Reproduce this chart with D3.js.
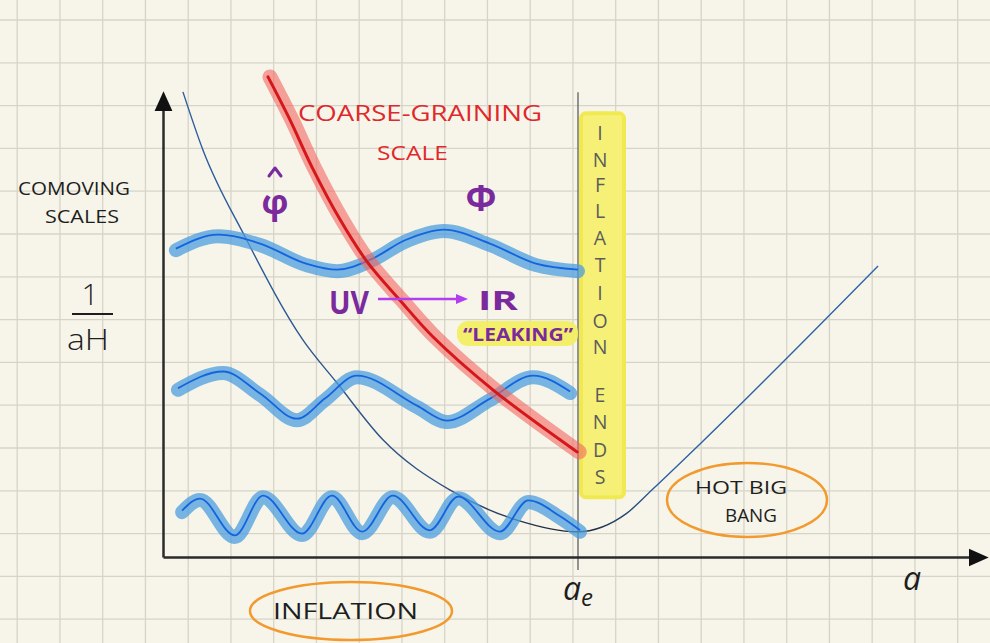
<!DOCTYPE html>
<html>
<head>
<meta charset="utf-8">
<script src="https://cdn.jsdelivr.net/npm/d3@7"></script>
<style>
body { margin: 0; background: #f7f5ea; }
svg { display: block; }
text { font-family: "Open Sans", sans-serif; }
</style>
</head>
<body>
<div id="chart-area"></div>
<script>
/*
*    comoving scales during inflation
*/

// x: scale factor a (a_e = 10), y: comoving scale 1/aH (arbitrary units)
const aEnd = 10;
const hubbleRadius = [[0.48, 9.96], [0.96, 8.72], [1.98, 6.85], [3.37, 4.65], [4.19, 3.73],
    [5.30, 2.51], [6.92, 1.43], [8.53, 0.79], [9.98, 0.54], [11.18, 0.94], [11.81, 1.46],
    [12.94, 2.42], [17.23, 6.23]];
const coarseGraining = [[2.53, 10.28], [3.06, 9.36], [3.59, 8.35], [4.27, 7.22], [4.92, 6.32],
    [5.71, 5.50], [6.51, 4.71], [7.95, 3.58], [9.98, 2.25]];
const longMode = [[0.31, 6.57], [1.33, 6.87], [2.34, 6.68], [3.45, 6.25], [4.19, 6.12],
    [5.01, 6.34], [5.83, 6.75], [6.77, 6.98], [7.88, 6.68], [8.99, 6.25], [10.0, 6.12]];
const midMode = [[0.36, 3.58], [1.45, 3.94], [2.34, 3.47], [3.23, 2.93], [3.90, 3.36],
    [4.67, 3.85], [6.12, 3.21], [6.84, 2.89], [7.88, 3.36], [8.92, 3.85], [9.81, 3.51]];
const shortMode = [[0.46, 0.96], [0.89, 1.22], [1.73, 0.43], [2.41, 1.28], [3.35, 0.47],
    [4.07, 1.28], [4.80, 0.51], [5.54, 1.28], [6.43, 0.54], [7.11, 1.26], [8.12, 0.51],
    [8.80, 1.18], [9.57, 0.84], [10.05, 0.54]];
const endsLetters = ["I", "N", "F", "L", "A", "T", "I", "O", "N", "E", "N", "D", "S"];
const endsLevels = [9.08, 8.52, 7.97, 7.41, 6.85, 6.27, 5.67, 5.07, 4.50, 3.49, 2.91, 2.31, 1.73];

const W = 990, H = 643;

const svg = d3.select("#chart-area").append("svg")
    .attr("width", W)
    .attr("height", H);

const x = d3.scaleLinear().domain([0, 10]).range([163, 578]);
const y = d3.scaleLinear().domain([0, 10]).range([557, 90]);

// paper grid
const gridX = d3.range(17.2, W, 42.75);
const gridY = d3.range(20, H, 42.8);
const grid = svg.append("g").attr("stroke", "#d6d4c8").attr("stroke-width", 1.3);
grid.selectAll(".gx").data(gridX).enter().append("line")
    .attr("x1", d => d).attr("x2", d => d).attr("y1", 0).attr("y2", H);
grid.selectAll(".gy").data(gridY).enter().append("line")
    .attr("y1", d => d).attr("y2", d => d).attr("x1", 0).attr("x2", W);

const defs = svg.append("defs");
defs.append("marker")
    .attr("id", "axis-head")
    .attr("markerUnits", "userSpaceOnUse")
    .attr("viewBox", "0 0 20 20")
    .attr("markerWidth", 20).attr("markerHeight", 20)
    .attr("refX", 2).attr("refY", 10)
    .attr("orient", "auto")
    .append("path").attr("d", "M0,1 L20,10 L0,19 Z").attr("fill", "#111");
defs.append("marker")
    .attr("id", "uv-head")
    .attr("markerUnits", "userSpaceOnUse")
    .attr("viewBox", "0 0 12 12")
    .attr("markerWidth", 12).attr("markerHeight", 12)
    .attr("refX", 2).attr("refY", 6)
    .attr("orient", "auto")
    .append("path").attr("d", "M0,1 L12,6 L0,11 Z").attr("fill", "#b23ef0");

// pen colour drifts to black near the end of inflation
const grad = defs.append("linearGradient")
    .attr("id", "hubble-ink")
    .attr("gradientUnits", "userSpaceOnUse")
    .attr("x1", x(0)).attr("x2", x(17.5)).attr("y1", 0).attr("y2", 0);
grad.append("stop").attr("offset", 0).attr("stop-color", "#2d5fa2");
grad.append("stop").attr("offset", 0.4).attr("stop-color", "#2b4f80");
grad.append("stop").attr("offset", 0.57).attr("stop-color", "#1e2430");
grad.append("stop").attr("offset", 0.68).attr("stop-color", "#2d5fa2");
grad.append("stop").attr("offset", 1).attr("stop-color", "#2f64aa");

// INFLATION ENDS highlight
svg.append("rect")
    .attr("x", x(aEnd) + 3).attr("y", y(9.5))
    .attr("width", 43).attr("height", y(1.28) - y(9.5))
    .attr("rx", 5)
    .attr("fill", "#f6f176")
    .attr("stroke", "#f0ea50")
    .attr("stroke-width", 4);

// a_e marker
svg.append("line")
    .attr("x1", x(aEnd)).attr("x2", x(aEnd))
    .attr("y1", y(9.95)).attr("y2", y(-0.28))
    .attr("stroke", "#7a7a78").attr("stroke-width", 1.6);

svg.selectAll(".ends").data(endsLetters).enter().append("text")
    .attr("x", x(aEnd) + 22)
    .attr("y", (d, i) => y(endsLevels[i]))
    .attr("text-anchor", "middle")
    .attr("dominant-baseline", "central")
    .attr("font-family", "Lato")
    .attr("font-size", 19.5)
    .attr("fill", "#5c5c5c")
    .text(d => d);

// axes
const xAxisScale = d3.scaleLinear().domain([0, 19.45]).range([x(0), x(19.45)]);
svg.append("g")
    .attr("transform", `translate(0, ${y(0)})`)
    .call(d3.axisBottom(xAxisScale).tickValues([]).tickSizeOuter(0))
    .select(".domain")
    .attr("stroke", "#2a2a2a").attr("stroke-width", 2.5)
    .attr("marker-end", "url(#axis-head)");

const yAxisScale = d3.scaleLinear().domain([0, 9.6]).range([y(0), y(9.6)]);
svg.append("g")
    .attr("transform", `translate(${x(0)}, 0)`)
    .call(d3.axisLeft(yAxisScale).tickValues([]).tickSizeOuter(0))
    .select(".domain")
    .attr("stroke", "#2a2a2a").attr("stroke-width", 2.5)
    .attr("marker-end", "url(#axis-head)");

const line = d3.line()
    .x(d => x(d[0]))
    .y(d => y(d[1]))
    .curve(d3.curveMonotoneX);

const smooth = d3.line()
    .x(d => x(d[0]))
    .y(d => y(d[1]))
    .curve(d3.curveCatmullRom.alpha(0.5));

// Hubble radius
svg.append("path")
    .attr("d", line(hubbleRadius))
    .attr("fill", "none")
    .attr("stroke", "url(#hubble-ink)")
    .attr("stroke-width", 1.4);

// modes
[longMode, midMode, shortMode].forEach(mode => {
    svg.append("path")
        .attr("d", line(mode))
        .attr("fill", "none")
        .attr("stroke", "#4c9ddf")
        .attr("stroke-opacity", 0.75)
        .attr("stroke-width", 14)
        .attr("stroke-linecap", "round")
        .attr("stroke-linejoin", "round");
    svg.append("path")
        .attr("d", line(mode))
        .attr("transform", "translate(0, -1.5)")
        .attr("fill", "none")
        .attr("stroke", "#1463df")
        .attr("stroke-width", 1.8);
});

// coarse-graining scale
svg.append("path")
    .attr("d", smooth(coarseGraining))
    .attr("transform", "translate(2, 0)")
    .attr("fill", "none")
    .attr("stroke", "#f2655f")
    .attr("stroke-opacity", 0.6)
    .attr("stroke-width", 15)
    .attr("stroke-linecap", "round");
svg.append("path")
    .attr("d", smooth(coarseGraining))
    .attr("fill", "none")
    .attr("stroke", "#d5161b")
    .attr("stroke-width", 3)
    .attr("stroke-linecap", "round");

// labels
const ink = "#1e1e1e";
const purple = "#7a2a9c";

svg.append("text").attr("x", 298).attr("y", 121)
    .attr("font-size", 22).attr("fill", "#e0282a")
    .attr("textLength", 244).attr("lengthAdjust", "spacingAndGlyphs")
    .text("COARSE-GRAINING");
svg.append("text").attr("x", 377).attr("y", 160)
    .attr("font-size", 20).attr("fill", "#e0282a")
    .attr("textLength", 71).attr("lengthAdjust", "spacingAndGlyphs")
    .text("SCALE");

svg.append("text").attr("x", 18).attr("y", 195)
    .attr("font-size", 18).attr("fill", ink)
    .attr("textLength", 112).attr("lengthAdjust", "spacingAndGlyphs")
    .text("COMOVING");
svg.append("text").attr("x", 45).attr("y", 223)
    .attr("font-size", 18).attr("fill", ink)
    .attr("textLength", 74).attr("lengthAdjust", "spacingAndGlyphs")
    .text("SCALES");

svg.append("text").attr("x", 90).attr("y", 305)
    .attr("text-anchor", "middle").attr("font-size", 30).attr("font-weight", 300)
    .attr("fill", ink).text("1");
svg.append("line").attr("x1", 72).attr("x2", 113).attr("y1", 314).attr("y2", 314)
    .attr("stroke", ink).attr("stroke-width", 2);
svg.append("text").attr("x", 67).attr("y", 350)
    .attr("font-size", 30).attr("font-weight", 300)
    .attr("textLength", 42).attr("lengthAdjust", "spacingAndGlyphs")
    .attr("fill", ink).text("aH");

// field operator with a hat drawn as a pen stroke
svg.append("text").attr("x", 275).attr("y", 214)
    .attr("text-anchor", "middle").attr("font-size", 34).attr("font-weight", "bold")
    .attr("font-family", "DejaVu Sans").attr("fill", purple).text("φ");
svg.append("path").attr("d", "M269,176 L275,168 L281,176")
    .attr("fill", "none").attr("stroke", purple).attr("stroke-width", 3)
    .attr("stroke-linecap", "round").attr("stroke-linejoin", "round");
svg.append("text").attr("x", 481).attr("y", 211)
    .attr("text-anchor", "middle").attr("font-size", 36).attr("font-weight", "bold")
    .attr("font-family", "DejaVu Sans").attr("fill", purple).text("Φ");

svg.append("text").attr("x", 329).attr("y", 314)
    .attr("font-size", 32).attr("font-weight", "bold").attr("fill", purple)
    .attr("textLength", 40).attr("lengthAdjust", "spacingAndGlyphs")
    .text("UV");
svg.append("line").attr("x1", 378).attr("x2", 458).attr("y1", 299).attr("y2", 299)
    .attr("stroke", "#b23ef0").attr("stroke-width", 2.5)
    .attr("marker-end", "url(#uv-head)");
svg.append("text").attr("x", 478).attr("y", 310)
    .attr("font-size", 27).attr("font-weight", "bold").attr("fill", purple)
    .attr("textLength", 40).attr("lengthAdjust", "spacingAndGlyphs")
    .text("IR");

svg.append("rect").attr("x", 457).attr("y", 321).attr("width", 121).attr("height", 25)
    .attr("rx", 11).attr("fill", "#f3ee5c").attr("fill-opacity", 0.9);
svg.append("text").attr("x", 463).attr("y", 341)
    .attr("font-size", 18).attr("font-weight", "bold").attr("fill", purple)
    .attr("textLength", 110).attr("lengthAdjust", "spacingAndGlyphs")
    .text("“LEAKING”");

// a labels
const aLabel = svg.append("text").attr("x", x(aEnd) - 15).attr("y", 600)
    .attr("font-family", "Liberation Serif").attr("font-style", "italic")
    .attr("font-size", 32).attr("fill", ink);
aLabel.append("tspan").text("a");
aLabel.append("tspan").attr("dy", 6).attr("font-size", 24).text("e");

svg.append("text").attr("x", 912).attr("y", 590)
    .attr("text-anchor", "middle")
    .attr("font-family", "Liberation Serif").attr("font-style", "italic")
    .attr("font-size", 32).attr("fill", ink).text("a");

// era ellipses
svg.append("ellipse").attr("cx", 351).attr("cy", 611).attr("rx", 101).attr("ry", 29)
    .attr("fill", "none").attr("stroke", "#f29a2e").attr("stroke-width", 2.5);
svg.append("text").attr("x", 273).attr("y", 619)
    .attr("font-size", 22).attr("fill", ink)
    .attr("textLength", 145).attr("lengthAdjust", "spacingAndGlyphs")
    .text("INFLATION");

svg.append("ellipse").attr("cx", 747).attr("cy", 500).attr("rx", 80).attr("ry", 37)
    .attr("fill", "none").attr("stroke", "#f29a2e").attr("stroke-width", 2.5);
svg.append("text").attr("x", 695).attr("y", 494)
    .attr("font-size", 18).attr("fill", ink)
    .attr("textLength", 92).attr("lengthAdjust", "spacingAndGlyphs")
    .text("HOT BIG");
svg.append("text").attr("x", 725).attr("y", 522)
    .attr("font-size", 18).attr("fill", ink)
    .attr("textLength", 52).attr("lengthAdjust", "spacingAndGlyphs")
    .text("BANG");
</script>
</body>
</html>
